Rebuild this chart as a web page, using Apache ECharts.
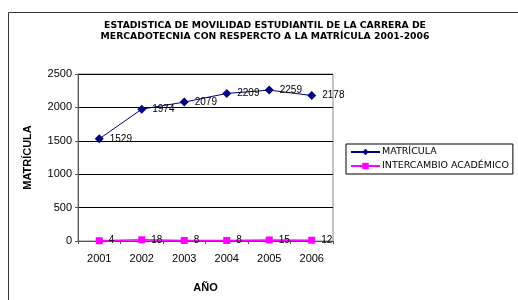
<!DOCTYPE html>
<html><head><meta charset="utf-8">
<script src="https://cdn.jsdelivr.net/npm/echarts@6/dist/echarts.min.js"></script>
<style>html,body{margin:0;padding:0;background:#fff}#c{width:518px;height:300px}</style>
</head><body><div id="c"></div>
<script>
const years = ['2001','2002','2003','2004','2005','2006'];
const matricula = [1529, 1974, 2079, 2209, 2259, 2178];
const intercambio = [4, 18, 8, 8, 15, 12];
const seriesNames = ['MATRÍCULA', 'INTERCAMBIO ACADÉMICO'];
const titleText = 'ESTADISTICA DE MOVILIDAD ESTUDIANTIL DE LA CARRERA DE\nMERCADOTECNIA CON RESPERCTO A LA MATRÍCULA 2001-2006';

const chart = echarts.init(document.getElementById('c'), null, {renderer:'canvas'});
const font = 'Liberation Sans, Arial, sans-serif';
chart.setOption({
  animation: false,
  backgroundColor: '#fff',
  textStyle: {fontFamily: font},
  graphic: [
    {type:'rect', shape:{x:8.5, y:12.5, width:600, height:400}, style:{fill:'none', stroke:'#333', lineWidth:1}, z:-1},
    {type:'text', x:265, y:20.5, scaleX:1.09, originX:0, style:{text:titleText, textAlign:'center', textVerticalAlign:'top',
      font:'bold 8.5px "DejaVu Sans"', lineHeight:11, fill:'#000'}}
  ],
  legend: {orient:'vertical', left: 346, top: 144, padding:[3,4,3,4], itemGap: 4,
    itemWidth: 29, itemHeight: 8, borderColor:'#000', borderWidth:1,
    textStyle:{fontSize:9.5, color:'#000', fontFamily:'DejaVu Sans', padding:[0,0,0,-3]}, data: seriesNames},
  grid: {left: 78, top: 74, width: 255, height: 167, show: true, borderColor:'#888', borderWidth:1, backgroundColor:'transparent'},
  xAxis: {type:'category', data: years, boundaryGap: true,
    name: 'AÑO', nameLocation:'middle', nameGap: 41,
    nameTextStyle:{fontSize:11, fontWeight:'bold', color:'#000'},
    axisLine:{lineStyle:{color:'#555'}}, axisTick:{show:true, length:3, lineStyle:{color:'#555'}},
    axisLabel:{fontSize:11, color:'#000', margin:12}},
  yAxis: {type:'value', min:0, max:2500, interval:500,
    name: 'MATRÍCULA', nameLocation:'middle', nameGap: 45,
    nameTextStyle:{fontSize:11, fontWeight:'bold', color:'#000'},
    axisLine:{show:true, lineStyle:{color:'#555'}}, axisTick:{show:true, length:3, lineStyle:{color:'#555'}},
    axisLabel:{fontSize:11, color:'#000', margin:6, formatter: v => String(v)},
    splitLine:{lineStyle:{color:'#000', width:1}}},
  series: [
    {name: seriesNames[0], type:'line', data: matricula, symbol:'diamond', symbolSize:9,
      itemStyle:{color:'#000080'}, lineStyle:{color:'#000080', width:1},
      label:{show:true, position:'right', distance:6, fontSize:10, color:'#000'}},
    {name: seriesNames[1], type:'line', data: intercambio, symbol:'rect', symbolSize:7,
      itemStyle:{color:'#FF00FF'}, lineStyle:{color:'#FF00FF', width:1.5},
      label:{show:true, position:'right', distance:6, fontSize:10, color:'#000'}}
  ]
});
</script></body></html>
